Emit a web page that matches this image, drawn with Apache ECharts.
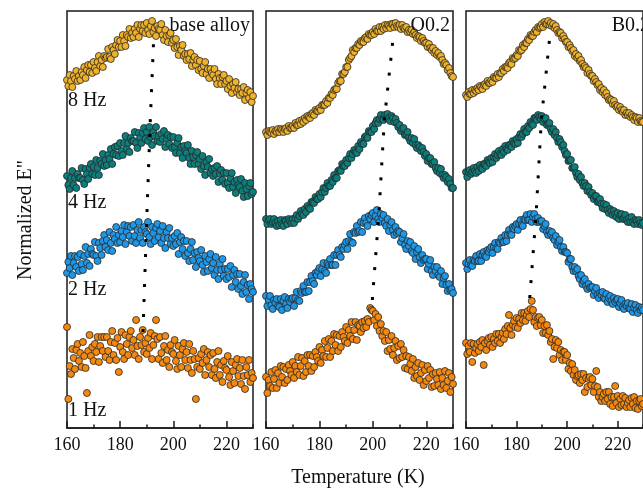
<!DOCTYPE html>
<html>
<head>
<meta charset="utf-8">
<script src="https://cdn.jsdelivr.net/npm/echarts@6/dist/echarts.min.js"></script>
<style>
  html, body { margin: 0; padding: 0; background: #fff; }
  #chart { width: 643px; height: 489px; }
</style>
</head>
<body>
<div id="chart"></div>
<script>
// Loss modulus E'' (normalised, stacked by frequency) vs temperature.
// Readings every 0.5 K from 160 K to 230 K; curves are offset vertically (arbitrary units).
const T_START = 160;
const T_STEP = 0.5;

const panelNames = ['base alloy', 'O0.2', 'B0.2'];
const freqLabels = ['1 Hz', '2 Hz', '4 Hz', '8 Hz'];
const tempTicks = [160, 180, 200, 220];

// ---- base alloy ----
const base1Hz = [101,29,62,54,79,70,59,78,84,67, 75,61,86,72,60,35,77,93,72,81, 67,84,76,91,66,82,91,77,91,71, 91,77,68,86,97,73,85,68,90,56, 81,96,76,69,93,84,73,91,97,80, 88,73,108,82,69,91,83,98,76,85, 74,90,80,95,69,83,92,108,89,69, 91,75,65,82,92,68,78,61,83,76, 74,88,67,59,82,73,61,79,85,68, 76,60,84,68,55,77,69,29,61,70, 59,74,65,79,53,68,76,61,73,53, 75,59,50,66,77,53,63,46,67,60, 58,72,51,43,66,57,45,63,69,52, 60,44,68,52,39,61,53,68,46,55, 50];
const base2Hz = [155,166,160,172,153,165,172,161,171,157, 174,164,158,172,181,165,174,162,179,174, 173,186,172,167,185,180,173,187,193,181, 188,178,196,185,177,193,189,201,185,193, 186,197,191,203,184,196,202,192,201,187, 203,192,185,198,206,190,198,185,201,196, 194,206,191,184,201,195,187,200,204,191, 197,185,202,190,180,196,190,200,184,190, 182,192,184,195,174,186,191,179,187,172, 187,175,167,179,186,168,175,161,176,170, 167,178,163,156,172,166,157,169,174,160, 165,153,171,158,149,164,158,169,152,159, 149,159,151,162,141,153,158,146,154,139, 154,142,134,146,153,136,143,129,144,139, 136];
const base4Hz = [252,243,239,250,257,243,250,240,254,250, 250,260,248,244,259,254,249,260,264,254, 261,253,268,260,253,267,264,274,262,268, 263,273,269,279,264,274,281,273,282,272, 285,277,273,285,292,279,285,276,290,287, 287,296,285,280,295,290,285,295,300,289, 296,287,301,291,283,296,292,301,287,292, 286,294,289,297,281,289,293,284,291,280, 291,281,275,285,290,275,281,270,282,277, 275,283,270,264,277,271,264,273,276,264, 269,259,272,262,253,266,261,269,255,259, 252,260,254,262,246,254,258,248,255,244, 255,245,240,250,255,241,246,235,248,243, 241,249,237,231,245,239,232,242,245,234, 236];
const base8Hz = [348,342,353,347,341,352,349,357,347,352, 348,356,353,361,350,358,363,356,363,355, 366,360,357,366,372,362,368,361,372,370, 371,379,371,369,381,378,374,383,388,381, 387,381,393,387,382,393,391,399,390,395, 391,399,395,403,391,399,403,397,403,395, 405,398,394,402,407,396,400,392,402,399, 398,404,393,388,398,392,386,393,395,385, 388,380,389,381,373,382,378,383,372,374, 368,374,369,375,362,368,371,363,368,358, 367,359,355,362,366,354,359,350,359,355, 353,359,349,344,354,350,344,351,353,344, 347,339,349,342,335,344,340,346,336,339, 333,339,335,341,328,335,338,330,336,326, 332];
// peak temperature of each curve (1, 2, 4, 8 Hz)
const basePeaks = [[188.6, 96], [190.0, 208], [191.2, 298], [192.6, 388]];

// ---- O0.2 ----
const o1Hz = [51,35,48,42,56,40,49,58,40,55, 45,62,51,61,45,59,48,63,57,53, 66,50,62,56,71,53,62,70,52,67, 56,73,62,73,57,72,61,76,71,67, 81,65,78,72,87,71,80,89,71,87, 77,94,83,93,77,92,81,96,91,87, 101,85,98,92,106,89,98,106,88,103, 102,96,106,100,107,101,109,106,120,118, 117,108,114,102,111,97,104,92,97,87, 96,77,88,79,92,73,80,87,68,82, 70,84,71,78,60,72,59,71,64,57, 69,50,61,52,65,48,55,63,43,58, 47,62,50,58,41,54,42,55,49,43, 56,39,50,43,57,40,47,55,36,51, 44];
const o2Hz = [132,122,128,132,123,119,128,125,129,122, 121,129,118,127,131,124,120,129,126,129, 130,122,130,136,128,127,137,135,142,136, 136,146,137,146,152,147,144,155,153,157, 160,152,159,165,157,155,165,163,169,163, 163,173,163,173,178,173,171,181,179,183, 186,179,187,194,186,185,196,195,202,196, 197,206,196,205,210,205,202,212,209,213, 215,206,212,218,209,206,214,210,213,205, 202,209,197,203,206,198,193,201,195,197, 196,186,190,194,183,179,187,182,186,177, 175,182,169,176,179,171,165,173,168,169, 169,159,164,168,157,153,161,157,161,153, 151,157,144,150,152,143,137,144,138,139, 135];
const o4Hz = [209,204,208,209,204,206,209,205,202,207, 203,208,204,202,208,207,204,209,207,205, 209,205,210,213,209,212,217,214,213,219, 216,222,220,219,226,226,225,231,229,229, 234,231,236,240,236,240,245,242,242,248, 246,253,250,250,257,258,257,264,262,262, 268,265,270,274,270,274,278,276,275,282, 279,286,284,284,291,292,290,297,296,296, 302,299,305,308,305,309,313,309,308,313, 310,314,310,307,312,310,306,309,305,301, 303,297,299,300,293,294,296,290,287,290, 285,289,283,280,283,281,277,280,276,272, 274,267,270,270,264,264,266,260,257,260, 255,259,253,250,253,251,246,249,244,240, 240];
const o8Hz = [296,293,297,296,295,298,294,297,296,299, 296,299,298,296,299,300,297,302,300,300, 302,300,305,303,303,307,304,308,306,310, 308,312,311,310,314,315,313,318,317,317, 320,318,323,323,323,327,325,330,330,334, 333,338,339,339,345,347,347,354,354,356, 361,361,368,370,372,378,376,380,380,384, 383,387,386,386,390,391,389,394,393,393, 396,394,399,397,397,401,397,401,399,403, 400,403,402,400,404,404,401,405,402,401, 403,399,403,400,399,401,396,398,396,398, 394,396,393,390,392,391,387,390,387,385, 385,381,384,380,378,380,375,377,373,375, 371,372,368,364,365,363,358,360,355,352, 351];
const oPeaks = [[199.8, 128], [202.3, 216], [204.3, 308], [207.5, 388]];

// ---- B0.2 ----
const b1Hz = [85,74,82,76,85,66,84,75,80,84, 77,86,81,88,63,85,78,87,90,83, 91,81,89,85,94,87,94,85,91,95, 89,99,94,102,113,100,93,103,107,101, 110,100,109,105,115,108,115,107,113,117, 111,119,127,118,106,111,102,110,111,103, 108,95,102,95,103,93,97,86,89,69, 81,88,80,86,73,78,68,76,76,68, 73,59,65,57,64,53,58,48,52,53, 45,54,48,54,36,50,41,49,51,43, 49,36,42,57,41,31,36,27,31,34, 27,36,29,36,24,31,22,31,42,25, 32,21,29,23,32,24,30,21,25,28, 21,30,24,31,20,27,19,27,29,22, 24];
const b2Hz = [165,159,164,168,163,162,168,167,172,167, 167,174,167,173,176,172,171,178,176,179, 181,175,181,185,180,179,186,185,190,186, 186,193,187,193,198,194,193,201,199,202, 204,198,204,208,203,202,209,208,213,208, 208,214,206,211,214,209,206,210,206,207, 207,199,202,204,196,193,197,194,196,190, 188,192,183,186,188,181,177,181,176,176, 175,166,169,169,161,157,161,157,159,152, 149,153,144,147,149,142,139,144,140,141, 141,133,137,140,133,130,135,133,136,130, 129,134,126,130,132,127,124,130,126,128, 129,121,125,128,121,119,124,122,125,120, 119,124,116,120,123,118,115,121,118,120, 118];
const b4Hz = [256,251,256,258,254,256,260,257,255,261, 257,263,260,259,264,264,262,268,266,265, 270,266,271,274,270,273,277,274,273,279, 276,282,279,278,283,283,281,287,285,284, 289,285,291,294,291,294,299,296,296,302, 300,306,304,303,310,310,308,313,311,309, 312,306,309,310,303,304,305,299,296,299, 293,296,290,286,289,286,281,283,277,273, 274,267,268,268,260,260,261,255,251,254, 248,251,245,242,245,242,237,241,236,233, 235,229,232,232,226,227,229,224,220,224, 219,223,218,215,219,217,213,217,214,211, 215,209,213,214,209,210,213,208,206,210, 206,211,206,204,208,207,204,208,205,203, 205];
const b8Hz = [333,331,336,334,334,338,335,338,337,340, 338,342,341,339,343,344,342,347,345,345, 348,346,351,350,350,354,351,355,355,359, 357,361,361,360,365,366,364,370,369,370, 373,372,378,377,378,383,381,385,385,389, 388,393,392,392,396,398,396,401,400,401, 404,401,406,404,404,407,403,405,402,404, 400,402,398,395,396,395,390,392,389,386, 386,381,383,380,377,378,372,374,370,372, 367,368,364,361,362,360,355,358,354,352, 352,347,349,346,343,344,338,340,336,338, 333,335,331,328,329,328,324,327,323,321, 322,318,321,318,316,318,313,315,313,315, 311,313,311,308,311,310,306,310,307,306, 306];
const bPeaks = [[185.2, 130], [187.7, 213], [189.8, 308], [193.0, 388]];

// ---- styling ----
const freqColors = ['#F5880F', '#1E98E6', '#0C7E7B', '#F0B22A'];
const SERIF = '"Liberation Serif", "Times New Roman", serif';
const TEXT = '#111';

const panels = [
  { name: panelNames[0], left: 67,  width: 186, curves: [base1Hz, base2Hz, base4Hz, base8Hz], peaks: basePeaks },
  { name: panelNames[1], left: 266, width: 187, curves: [o1Hz, o2Hz, o4Hz, o8Hz], peaks: oPeaks },
  { name: panelNames[2], left: 466, width: 187, curves: [b1Hz, b2Hz, b4Hz, b8Hz], peaks: bPeaks }
];
const TOP = 11, HEIGHT = 417;

function toPairs(vals) {
  return vals.map((v, i) => [T_START + i * T_STEP, v]);
}

const grids = [], xAxes = [], yAxes = [], series = [], graphics = [];

panels.forEach((p, g) => {
  grids.push({
    left: p.left, top: TOP, width: p.width, height: HEIGHT,
    show: true, borderColor: '#1a1a1a', borderWidth: 1.5, backgroundColor: 'transparent'
  });
  // major ticks with labels
  xAxes.push({
    gridIndex: g, type: 'value', min: 160, max: 230, interval: tempTicks[1] - tempTicks[0],
    position: 'bottom',
    axisLine: { show: true, onZero: false, lineStyle: { color: '#1a1a1a', width: 1.5 } },
    axisTick: { show: true, inside: true, length: 7, lineStyle: { color: '#1a1a1a', width: 1.5 } },
    axisLabel: {
      show: true, showMaxLabel: false, margin: 8,
      fontFamily: SERIF, fontSize: 18, color: TEXT,
      formatter: v => (tempTicks.indexOf(v) >= 0 ? String(v) : '')
    },
    splitLine: { show: false }
  });
  // minor ticks (every 10 K)
  xAxes.push({
    gridIndex: g, type: 'value', min: 160, max: 230, interval: 10,
    position: 'bottom', offset: 0,
    axisLine: { show: false },
    axisTick: { show: true, inside: true, length: 3.5, lineStyle: { color: '#1a1a1a', width: 1.5 } },
    axisLabel: { show: false },
    splitLine: { show: false }
  });
  yAxes.push({ gridIndex: g, type: 'value', min: 0, max: HEIGHT, show: false });

  p.curves.forEach((vals, k) => {
    series.push({
      type: 'scatter', xAxisIndex: 2 * g, yAxisIndex: g,
      data: toPairs(vals), symbol: 'circle', symbolSize: 7, clip: true,
      itemStyle: { color: freqColors[k], borderColor: '#262626', borderWidth: 0.8, opacity: 1 },
      z: 2 + k, silent: true
    });
  });
  series.push({
    type: 'line', xAxisIndex: 2 * g, yAxisIndex: g,
    data: p.peaks, symbol: 'none', silent: true, clip: false,
    lineStyle: { color: '#000', width: 3, type: [3, 12], cap: 'butt' },
    z: 10
  });

  graphics.push({
    type: 'text', x: p.left + p.width - 3, y: 26, z: 20,
    style: { text: p.name, font: '20px ' + SERIF, fill: TEXT, align: 'right', verticalAlign: 'middle' }
  });
});

// frequency labels inside the first panel
const freqLabelY = [411, 290, 203, 101];
freqLabels.forEach((t, k) => {
  graphics.push({
    type: 'text', x: 68, y: freqLabelY[k], z: 20,
    style: { text: t, font: '20px ' + SERIF, fill: TEXT, align: 'left', verticalAlign: 'middle' }
  });
});

// axis titles
graphics.push({
  type: 'text', x: 358, y: 478, z: 20,
  style: { text: 'Temperature (K)', font: '20px ' + SERIF, fill: TEXT, align: 'center', verticalAlign: 'middle' }
});
graphics.push({
  type: 'text', x: 26, y: 220, rotation: Math.PI / 2, z: 20,
  style: { text: 'Normalized E"', font: '20px ' + SERIF, fill: TEXT, align: 'center', verticalAlign: 'middle' }
});

const chart = echarts.init(document.getElementById('chart'), null, { renderer: 'canvas' });
chart.setOption({
  animation: false,
  backgroundColor: '#fff',
  grid: grids,
  xAxis: xAxes,
  yAxis: yAxes,
  series: series,
  graphic: graphics
});
</script>
</body>
</html>
